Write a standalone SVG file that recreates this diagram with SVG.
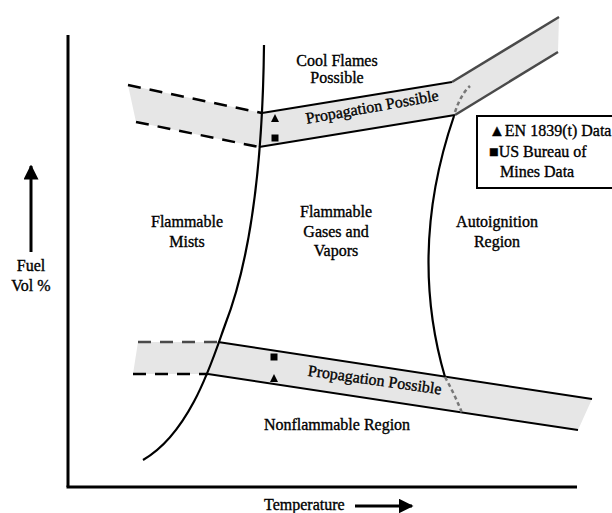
<svg xmlns="http://www.w3.org/2000/svg" width="612" height="513" viewBox="0 0 612 513">
<style>
text{font-family:"Liberation Serif","DejaVu Serif","Times New Roman",serif;font-size:16px;fill:#000;stroke:#000;stroke-width:0.35}
.c{text-anchor:middle}
.band{fill:#e6e6e6;stroke:none}
.solid{stroke:#000;stroke-width:2;fill:none}
.grey{stroke:#4a4a4a;stroke-width:2.5;fill:none}
.dash{stroke:#000;stroke-width:2.5;stroke-dasharray:13 9;fill:none}
.dashg{stroke:#4a4a4a;stroke-width:2.5;stroke-dasharray:13 9;fill:none}
.dot{stroke:#777;stroke-width:2.5;stroke-dasharray:4 3;fill:none}
.curve{stroke:#000;stroke-width:2.2;fill:none}
.axis{stroke:#000;stroke-width:3;fill:none}
</style>
<defs>
<marker id="ah" viewBox="0 0 10 10" refX="9" refY="5" markerWidth="5" markerHeight="5" orient="auto" markerUnits="strokeWidth">
<path d="M0,0 L10,5 L0,10 Z" fill="#000"/>
</marker>
</defs>

<g id="bands">
<polygon class="band" points="128,85 262,113 452,82 559,17 558,52 455,115 259,147 136,122"/>
<polygon class="band" points="138,342 218,342 592,399 578,430 208,374 133,374"/>
</g>

<g id="connectors">
<line class="axis" x1="68" y1="35" x2="68" y2="487"/>
<line class="axis" x1="66.5" y1="487" x2="577" y2="487"/>
<line x1="31" y1="252" x2="31" y2="166" stroke="#000" stroke-width="3" marker-end="url(#ah)"/>
<line x1="355" y1="506" x2="412" y2="506" stroke="#000" stroke-width="3" marker-end="url(#ah)"/>

<line class="dash" x1="128" y1="85" x2="262" y2="113"/>
<line class="dash" x1="136" y1="122" x2="259" y2="147"/>
<line class="solid" x1="262" y1="113" x2="452" y2="82"/>
<line class="grey" x1="452" y1="82" x2="559" y2="17"/>
<line class="solid" x1="259" y1="147" x2="455" y2="115"/>
<line class="grey" x1="455" y1="115" x2="558" y2="52"/>

<line class="dashg" x1="138" y1="342" x2="218" y2="342"/>
<line class="dash" x1="133" y1="374" x2="208" y2="374"/>
<line class="solid" x1="218" y1="342" x2="592" y2="399"/>
<line class="solid" x1="208" y1="374" x2="578" y2="430"/>

<path class="curve" d="M264,45 Q262,230 225,325 C214,355 192,432 143,460"/>
<path class="curve" d="M454,116 Q408,250 445,377"/>
<path class="dot" d="M445,377 Q455,395 462,413"/>
<path class="dot" d="M455,112 Q461,94 470,86"/>
</g>

<g id="markers">
<polygon points="275,114 279,122 271,122" fill="#000"/>
<rect x="271.5" y="134.5" width="7" height="7" fill="#000"/>
<rect x="270.5" y="353.5" width="7" height="7" fill="#000"/>
<polygon points="274,374 278,382 270,382" fill="#000"/>
</g>

<g id="labels">
<text class="c" x="337" y="66">Cool Flames</text>
<text class="c" x="337" y="83">Possible</text>
<text class="c" transform="translate(373,112) rotate(-10)" x="0" y="0">Propagation Possible</text>
<text class="c" x="187" y="227">Flammable</text>
<text class="c" x="187" y="247">Mists</text>
<text class="c" x="336" y="217">Flammable</text>
<text class="c" x="336" y="237">Gases and</text>
<text class="c" x="336" y="256">Vapors</text>
<text class="c" x="497" y="227">Autoignition</text>
<text class="c" x="497" y="247">Region</text>
<text class="c" transform="translate(374,385) rotate(8)" x="0" y="0">Propagation Possible</text>
<text class="c" x="337" y="430">Nonflammable Region</text>
<text class="c" x="31" y="271">Fuel</text>
<text class="c" x="31" y="291">Vol %</text>
<text x="264" y="510">Temperature</text>
</g>

<g id="legend">
<rect x="477" y="116" width="136" height="72" fill="#fff" stroke="#000" stroke-width="2"/>
<text x="489" y="136">▲EN 1839(t) Data</text>
<text x="489" y="157">■US Bureau of</text>
<text x="500" y="177">Mines Data</text>
</g>
</svg>
